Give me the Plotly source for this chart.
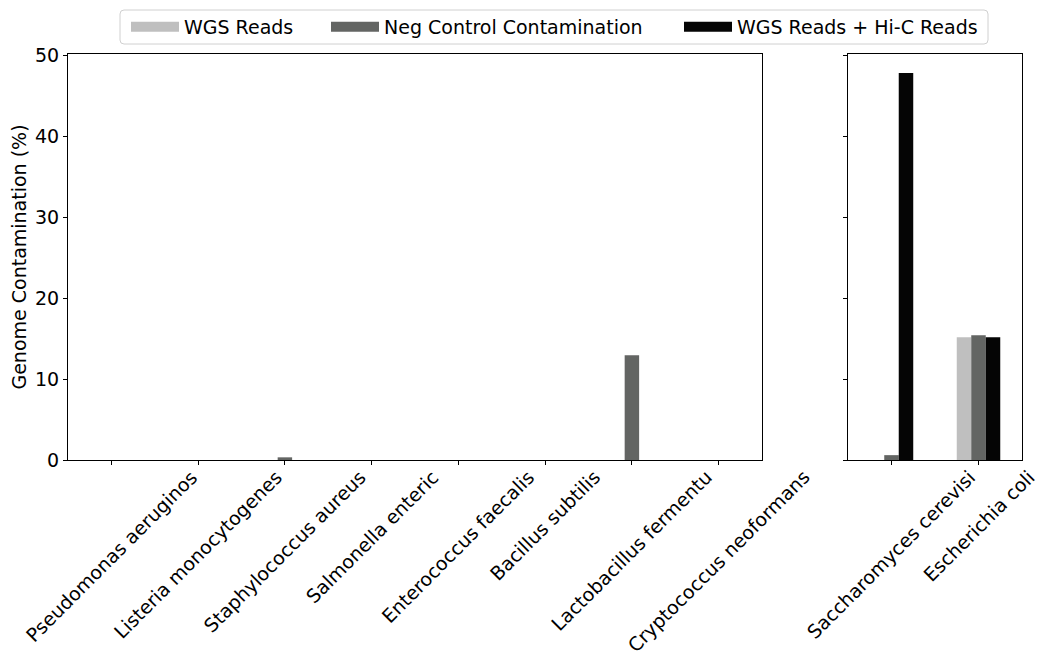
import plotly.graph_objects as go

# ---- data ----
left_categories = ["Pseudomonas aeruginos", "Listeria monocytogenes", "Staphylococcus aureus",
                   "Salmonella enteric", "Enterococcus faecalis", "Bacillus subtilis",
                   "Lactobacillus fermentu", "Cryptococcus neoformans"]
right_categories = ["Saccharomyces cerevisi", "Escherichia coli"]

series_names = ["WGS Reads", "Neg Control Contamination", "WGS Reads + Hi-C Reads"]
left_wgs = [0, 0, 0, 0, 0, 0, 0, 0]
left_neg = [0, 0, 0.33, 0, 0, 0, 12.96, 0]
left_hic = [0, 0, 0, 0, 0, 0, 0, 0]
right_wgs = [0, 15.19]
right_neg = [0.6, 15.43]
right_hic = [47.85, 15.19]

y_ticks = [0, 10, 20, 30, 40, 50]

colors = ["#bfbfbf", "#636563", "#050505"]
FONT = "DejaVu Sans"
FS = 19

W, H = 1052, 654
ML, MR, MT, MB = 60, 38, 46, 202
PW, PH = W - ML - MR, H - MT - MB

legend_ids = ["legend", "legend2", "legend3"]
legend_x_px = [118, 318, 671]   # left edge of each legend entry (figure pixels)

fig = go.Figure()
left_vals = [left_wgs, left_neg, left_hic]
right_vals = [right_wgs, right_neg, right_hic]
for i, name in enumerate(series_names):
    fig.add_trace(go.Bar(x=left_categories, y=left_vals[i], name=name, marker_color=colors[i],
                         marker_line_width=0, xaxis="x", yaxis="y", legendgroup=name,
                         showlegend=False))
    fig.add_trace(go.Bar(x=right_categories, y=right_vals[i], name=name, marker_color=colors[i],
                         marker_line_width=0, xaxis="x2", yaxis="y2", legendgroup=name,
                         showlegend=False))
    # legend key only (rectangular patch like the reference's legend)
    fig.add_trace(go.Scatter(x=[None], y=[None], mode="lines", name=name, legendgroup=name,
                             legend=legend_ids[i],
                             line=dict(color=colors[i], width=14), xaxis="x", yaxis="y",
                             showlegend=True, hoverinfo="skip"))

axis_common = dict(showline=True, linecolor="black", linewidth=1, mirror=True,
                   ticks="outside", ticklen=4, tickcolor="black", tickwidth=1,
                   showgrid=False, zeroline=False)

annotations = []
for ref, cats in (("x", left_categories), ("x2", right_categories)):
    for c in cats:
        annotations.append(dict(x=c, y=0, xref=ref, yref="paper", yshift=-3, text=c,
                                showarrow=False, textangle=-45, xanchor="center", yanchor="top",
                                font=dict(family=FONT, size=FS, color="black")))

# legend frame (rounded rectangle) in paper coordinates
def px2paper_x(px):
    return (px - ML) / PW

def px2paper_y(py):
    return (H - MB - py) / PH

x0, x1 = px2paper_x(112), px2paper_x(980)
y0, y1 = px2paper_y(36), px2paper_y(2)
rx, ry = 4 / PW, 4 / PH
frame_path = (f"M {x0+rx},{y0} L {x1-rx},{y0} Q {x1},{y0} {x1},{y0+ry} "
              f"L {x1},{y1-ry} Q {x1},{y1} {x1-rx},{y1} L {x0+rx},{y1} "
              f"Q {x0},{y1} {x0},{y1-ry} L {x0},{y0+ry} Q {x0},{y0} {x0+rx},{y0} Z")

legend_common = dict(orientation="h", xref="container", xanchor="left",
                     yref="container", y=1 - 19 / H, yanchor="middle",
                     bgcolor="rgba(0,0,0,0)", borderwidth=0, font=dict(size=FS),
                     itemwidth=48)

fig.update_layout(
    width=W, height=H,
    margin=dict(l=ML, r=MR, t=MT, b=MB, autoexpand=False),
    paper_bgcolor="white", plot_bgcolor="white",
    font=dict(family=FONT, size=FS, color="black"),
    barmode="group", bargap=0.5, bargroupgap=0,
    xaxis=dict(domain=[0, 0.7275], range=[-0.5, 7.5], showticklabels=False, **axis_common),
    xaxis2=dict(domain=[0.8176, 1], range=[-0.5, 1.5], showticklabels=False, **axis_common),
    yaxis=dict(range=[0, 50.2], tickvals=y_ticks, automargin=False,
               title=dict(text="Genome Contamination (%)", font=dict(size=FS), standoff=4),
               tickfont=dict(size=FS), **axis_common),
    yaxis2=dict(range=[0, 50.2], tickvals=y_ticks, anchor="x2", showticklabels=False,
                matches="y", **axis_common),
    legend=dict(x=legend_x_px[0] / W, **legend_common),
    legend2=dict(x=legend_x_px[1] / W, **legend_common),
    legend3=dict(x=legend_x_px[2] / W, **legend_common),
    shapes=[dict(type="path", path=frame_path, xref="paper", yref="paper",
                 line=dict(color="#d0d0d0", width=1), fillcolor="rgba(255,255,255,0.8)",
                 layer="below")],
    annotations=annotations,
)

fig.write_html("out.html")
